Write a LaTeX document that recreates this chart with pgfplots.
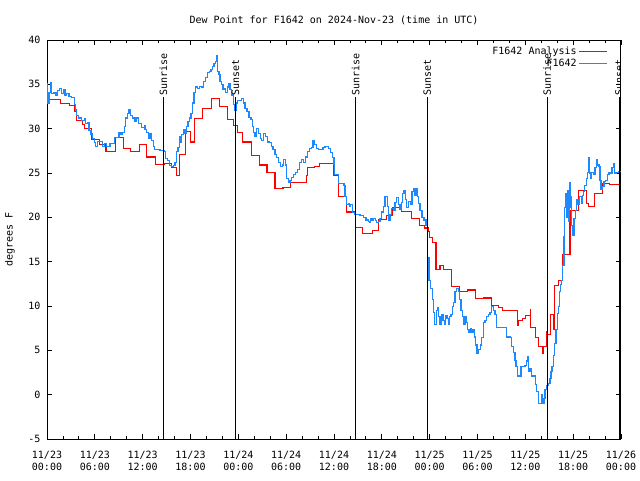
\documentclass[border=0pt]{standalone}
\usepackage{fontspec}
\setmainfont{DejaVu Sans Mono}
\usepackage{pgfplots}
\pgfplotsset{compat=1.18}
\definecolor{anared}{HTML}{FF0000}
\definecolor{obsblue}{HTML}{1E88FF}

% hours since 11/23 00:00 UTC, dew point in F
\pgfplotstableread{
h v
0.0 33.3
1.7 32.8
2.8 32.6
3.5 31.9
3.65 30.9
4.4 30.5
4.65 30.0
5.6 28.8
6.6 28.2
7.4 27.4
8.6 29.0
9.65 27.8
10.5 27.4
11.6 28.2
12.5 26.8
13.6 26.0
14.7 26.1
15.6 25.6
16.2 24.7
16.6 27.1
17.4 29.7
18.0 28.5
18.5 31.1
19.5 32.3
20.6 33.4
21.6 32.5
22.6 31.0
23.4 30.4
23.9 29.6
24.5 28.5
25.7 27.0
26.7 25.9
27.6 25.1
28.6 23.3
29.6 23.4
30.6 23.9
32.5 24.7
32.7 25.6
33.5 25.7
34.2 26.1
35.9 24.7
36.6 22.3
37.6 20.6
38.7 18.9
39.6 18.2
40.8 18.5
41.6 19.8
42.6 20.2
43.3 21.1
44.5 20.7
45.7 19.9
46.7 19.1
47.4 18.8
47.8 18.4
48.0 17.7
48.3 17.2
48.8 14.1
49.3 14.6
49.7 14.1
50.7 12.2
51.7 11.6
52.8 11.8
53.7 10.8
54.7 10.9
55.7 10.1
56.6 9.8
57.1 9.5
59.0 7.8
59.1 8.4
59.6 8.6
60.0 8.9
60.6 9.6
60.7 7.6
61.3 6.4
61.6 5.4
62.1 4.6
62.3 5.4
62.6 7.1
62.8 6.8
63.2 9.0
63.5 7.3
63.7 12.3
64.2 12.9
64.7 15.8
65.6 20.8
66.7 23.0
67.7 21.6
67.9 21.2
68.7 22.7
69.7 23.8
70.6 23.7
71.75 23.7
}\analysis

\pgfplotstableread{
h v
0.00 33.3
0.05 35.1
0.10 32.9
0.25 34.1
0.50 35.2
0.59 34.0
0.88 34.1
1.13 33.8
1.34 34.3
1.59 34.5
1.84 34.0
2.04 34.4
2.26 33.8
2.47 34.0
2.76 33.6
3.10 33.5
3.42 32.7
3.60 32.1
3.72 31.5
3.93 31.2
4.35 30.9
4.68 31.1
4.85 30.6
5.10 30.7
5.27 29.8
5.52 29.4
5.68 28.9
5.93 28.4
6.11 28.0
6.36 28.6
6.65 28.6
6.94 28.0
7.19 28.3
7.49 28.0
7.90 28.3
8.32 28.3
8.44 29.0
8.74 29.0
9.03 29.6
9.28 29.3
9.45 29.6
9.70 30.2
9.87 31.2
10.07 31.7
10.29 32.1
10.50 31.5
10.70 31.2
11.04 30.8
11.25 31.2
11.45 30.6
11.88 30.1
12.21 30.4
12.29 29.9
12.51 29.6
12.71 28.9
12.92 29.4
13.13 28.7
13.33 28.0
13.46 27.7
13.76 27.6
14.17 27.5
14.68 27.4
14.84 26.6
15.09 26.4
15.34 25.8
15.59 25.7
15.84 25.8
16.06 26.2
16.27 27.4
16.43 27.9
16.60 29.1
16.77 28.5
16.90 29.3
17.10 29.9
17.31 29.5
17.52 30.2
17.69 30.8
17.85 31.2
18.06 31.7
18.28 32.9
18.44 34.1
18.65 34.7
18.85 34.5
19.10 34.8
19.41 34.7
19.61 35.3
19.86 35.8
20.11 36.3
20.36 36.4
20.57 36.7
20.79 37.0
20.95 37.4
21.16 37.6
21.33 38.3
21.41 36.4
21.58 36.1
21.70 35.3
21.86 35.0
22.08 34.4
22.24 34.5
22.42 34.1
22.62 34.7
22.79 35.1
22.96 34.4
23.17 33.8
23.37 32.7
23.55 32.1
23.71 32.9
23.92 33.2
24.08 33.2
24.42 33.4
24.62 32.9
24.84 32.3
25.09 31.9
25.34 31.3
25.59 31.0
25.75 30.2
25.93 29.6
26.09 29.1
26.25 30.0
26.50 29.5
26.76 28.9
26.93 28.7
27.18 29.5
27.43 29.1
27.69 28.5
27.94 28.4
28.19 28.0
28.35 27.6
28.60 27.1
28.76 26.7
29.01 26.2
29.27 25.7
29.52 25.9
29.69 26.5
29.86 25.9
30.07 24.4
30.27 23.9
30.48 24.2
30.70 24.5
30.95 24.8
31.20 25.1
31.45 25.4
31.70 26.2
31.95 26.5
32.20 26.2
32.45 26.8
32.70 27.4
32.95 27.8
33.20 27.9
33.37 28.7
33.53 28.2
33.78 27.8
34.03 27.7
34.37 27.7
34.62 27.9
34.87 28.0
35.09 28.0
35.29 27.8
35.54 27.3
35.79 26.7
36.00 26.0
36.10 24.8
36.25 24.8
36.54 23.8
36.97 23.8
37.26 23.6
37.38 22.3
37.59 21.4
37.79 21.5
37.92 21.2
38.10 21.4
38.35 20.5
38.64 20.3
39.26 20.2
39.68 20.0
40.02 19.7
40.31 19.5
40.43 19.4
40.61 19.9
40.77 19.7
40.93 19.9
41.15 19.6
41.36 19.4
41.56 19.5
41.77 19.9
41.99 20.6
42.19 21.2
42.40 22.3
42.53 22.4
42.69 21.2
42.86 19.7
43.03 20.3
43.24 21.0
43.44 20.8
43.65 21.7
43.87 22.2
44.07 21.4
44.28 20.9
44.49 21.7
44.62 22.7
44.78 23.0
44.95 22.0
45.12 21.1
45.32 21.8
45.54 21.4
45.79 22.9
45.95 23.3
46.13 22.5
46.29 23.2
46.45 22.3
46.63 21.6
46.79 20.8
47.04 20.0
47.29 19.7
47.54 19.1
47.71 17.8
47.76 14.3
47.80 15.5
47.92 12.9
48.13 12.0
48.30 10.7
48.47 9.3
48.63 7.9
48.84 9.5
48.97 9.8
49.13 8.8
49.30 7.9
49.47 9.0
49.67 8.4
49.84 7.9
50.01 8.9
50.18 8.6
50.34 7.9
50.51 8.8
50.68 9.0
50.84 9.9
51.02 10.4
51.18 11.6
51.39 12.0
51.59 11.6
51.77 10.7
51.93 9.5
52.10 8.8
52.27 7.9
52.43 8.8
52.60 8.1
52.77 7.3
52.94 7.0
53.10 7.5
53.28 7.0
53.44 7.3
53.60 6.5
53.78 5.6
53.94 4.7
54.10 5.1
54.32 5.6
54.53 6.4
54.73 8.1
54.94 8.4
55.16 8.8
55.36 9.0
55.57 9.3
55.79 9.9
55.99 9.5
56.20 9.0
56.41 7.6
57.04 7.6
57.37 7.6
57.62 6.5
58.12 6.4
58.29 5.4
58.54 4.8
58.71 3.9
58.83 3.2
59.04 2.1
59.24 2.1
59.46 3.2
59.96 3.3
60.17 3.8
60.25 4.3
60.38 2.6
60.59 3.0
60.80 2.1
61.09 2.1
61.30 1.1
61.43 0.4
61.63 -1.0
61.93 -1.0
62.06 0.0
62.18 -1.0
62.34 -0.4
62.47 0.6
62.68 1.0
62.88 1.3
63.10 1.8
63.22 2.6
63.35 3.2
63.51 4.4
63.64 5.8
63.85 7.3
64.01 9.2
64.14 9.9
64.26 11.6
64.39 12.4
64.56 12.9
64.69 14.6
64.85 17.8
64.94 21.1
65.07 22.7
65.14 20.0
65.27 23.0
65.39 19.5
65.52 23.9
65.61 21.1
65.70 22.3
65.82 19.1
65.95 18.0
66.11 19.9
66.27 20.8
66.45 22.0
66.61 21.4
66.78 22.3
66.99 21.6
67.16 22.5
67.28 22.9
67.46 23.6
67.62 24.4
67.78 25.1
67.91 26.7
68.03 25.0
68.21 24.4
68.33 25.1
68.53 24.8
68.74 25.6
68.95 26.5
69.08 25.9
69.24 25.7
69.37 24.2
69.49 23.1
69.66 23.5
69.87 24.0
70.03 24.2
70.28 24.8
70.50 25.1
70.71 24.9
70.87 25.6
71.04 26.1
71.16 25.0
71.38 25.1
71.67 25.2
72.00 25.2
}\observed

\begin{document}
\begin{tikzpicture}
\useasboundingbox (0,0) rectangle (640pt,480pt);
\begin{axis}[
    at={(47pt,41pt)}, anchor=south west,
    scale only axis, width=574pt, height=399pt,
    xmin=0, xmax=72, ymin=-5, ymax=40,
    xtick={0,6,...,72},
    minor xtick={2,4,...,70},
    xticklabels={{11/23\\00:00},{11/23\\06:00},{11/23\\12:00},{11/23\\18:00},
                 {11/24\\00:00},{11/24\\06:00},{11/24\\12:00},{11/24\\18:00},
                 {11/25\\00:00},{11/25\\06:00},{11/25\\12:00},{11/25\\18:00},
                 {11/26\\00:00}},
    xticklabel style={align=center, font=\fontsize{10}{12}\selectfont, yshift=-9pt},
    ytick={-5,0,...,40},
    yticklabel style={xshift=-3pt},
    tick align=inside,
    major tick length=5pt, minor tick length=3pt,
    tick style={black, line width=0.8pt},
    axis line style={line width=1pt},
    /pgf/number format/assume math mode=true,
    title={Dew Point for F1642 on 2024-Nov-23 (time in UTC)},
    title style={at={(0.5,1)}, anchor=center, yshift=14pt},
    ylabel={degrees F},
    ylabel style={at={(axis description cs:-0.0645,0.5)}, anchor=center},
    legend style={draw=none, fill=none, at={(1,1)}, anchor=north east,
                  xshift=-10pt, yshift=-3pt, row sep=-1pt},
    legend cell align=right,
    legend plot pos=right,
    legend image code/.code={\draw[#1] (0pt,0pt) -- (28pt,0pt);},
]
\addplot[const plot, color=anared, line width=1.1pt] table[x=h, y=v] {\analysis};
\addlegendentry{F1642 Analysis}
\addplot[const plot, color=obsblue, line width=1.1pt] table[x=h, y=v] {\observed};
\addlegendentry{F1642}

\draw[line width=1pt] (axis cs:14.6,-5) -- (axis cs:14.6,33.6) node[rotate=90, anchor=west, inner sep=1pt] {Sunrise};
\draw[line width=1pt] (axis cs:23.65,-5) -- (axis cs:23.65,33.6) node[rotate=90, anchor=west, inner sep=1pt] {Sunset};
\draw[line width=1pt] (axis cs:38.7,-5) -- (axis cs:38.7,33.6) node[rotate=90, anchor=west, inner sep=1pt] {Sunrise};
\draw[line width=1pt] (axis cs:47.7,-5) -- (axis cs:47.7,33.6) node[rotate=90, anchor=west, inner sep=1pt] {Sunset};
\draw[line width=1pt] (axis cs:62.75,-5) -- (axis cs:62.75,33.6) node[rotate=90, anchor=west, inner sep=1pt] {Sunrise};
\draw[line width=1pt] (axis cs:71.75,-5) -- (axis cs:71.75,33.6) node[rotate=90, anchor=west, inner sep=1pt] {Sunset};
\end{axis}
\end{tikzpicture}
\end{document}
